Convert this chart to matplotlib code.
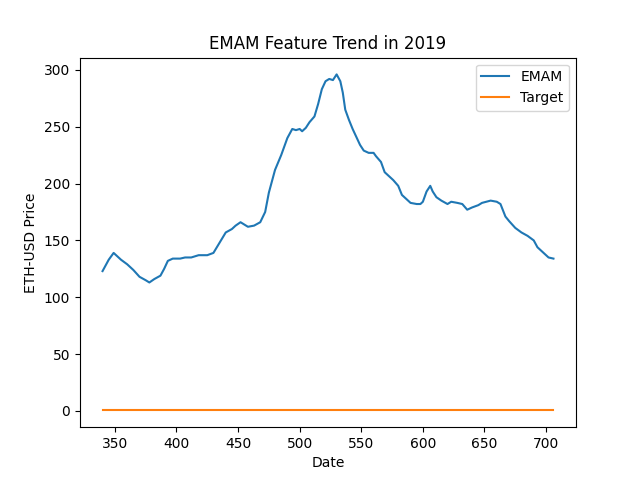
import matplotlib
matplotlib.use('Agg')
import matplotlib.pyplot as plt

# EMAM values
days = [340, 345, 349, 352, 355, 360, 365, 370, 375, 378, 382, 387, 390, 393, 397, 400,
        403, 407, 412, 418, 425, 430, 435, 440, 445, 448, 452, 455, 458, 463, 468, 472,
        475, 480, 485, 490, 494, 497, 500, 502, 505, 508, 512, 515, 518, 521, 524, 527,
        530, 533, 535, 537, 540, 543, 546, 549, 552, 556, 560, 562, 566, 569, 573, 576,
        580, 583, 587, 590, 595, 598, 600, 603, 606, 608, 611, 615, 620, 623, 628, 632,
        636, 640, 645, 648, 655, 660, 663, 667, 670, 675, 680, 685, 690, 693, 697, 700,
        702, 706]
emam = [123, 133, 139, 136, 133, 129, 124, 118, 115, 113, 116, 119, 125, 132, 134, 134,
        134, 135, 135, 137, 137, 139, 148, 157, 160, 163, 166, 164, 162, 163, 166, 175,
        192, 212, 225, 240, 248, 247, 248, 246, 249, 254, 259, 270, 283, 290, 292, 291,
        296, 290, 280, 265, 256, 248, 241, 234, 229, 227, 227, 224, 219, 210, 206, 203,
        198, 190, 186, 183, 182, 182, 184, 193, 198, 193, 188, 185, 182, 184, 183, 182,
        177, 179, 181, 183, 185, 184, 182, 171, 167, 161, 157, 154, 150, 144, 140, 137,
        135, 134]
target_days = [340, 400, 450, 500, 550, 600, 650, 706]
target = [0.5, 0.5, 0.5, 0.5, 0.5, 0.5, 0.5, 0.5]

plt.figure(figsize=(6.4, 4.8))
plt.plot(days, emam, label='EMAM')
plt.plot(target_days, target, label='Target')
plt.title('EMAM Feature Trend in 2019')
plt.xlabel('Date')
plt.ylabel('ETH-USD Price')
plt.legend()
plt.savefig('out.png', dpi=100)
